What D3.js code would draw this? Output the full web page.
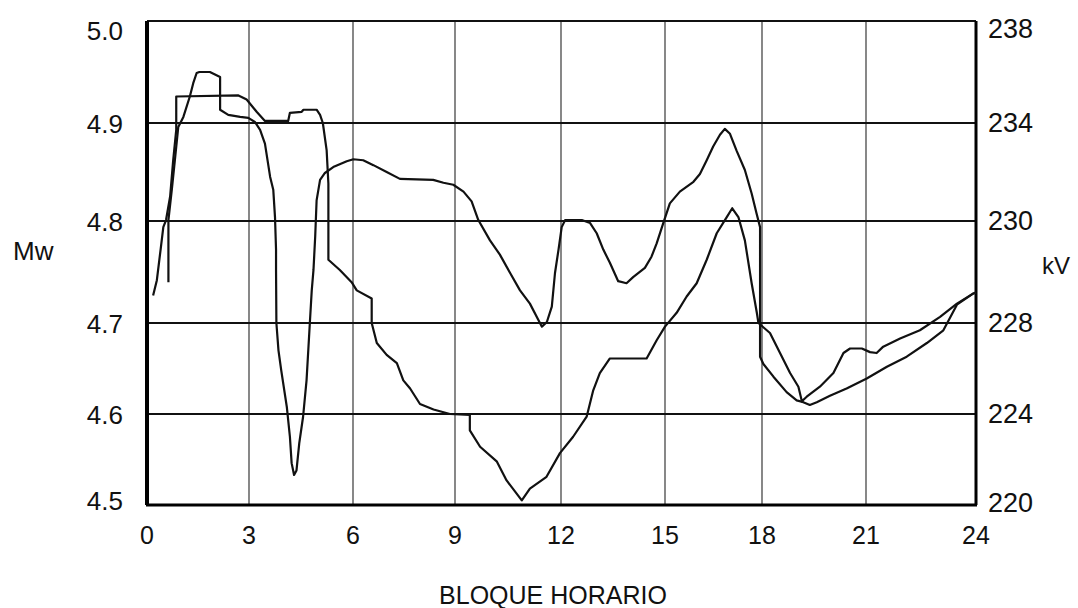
<!DOCTYPE html>
<html><head><meta charset="utf-8">
<script src="https://cdn.jsdelivr.net/npm/d3@7"></script>
<style>body{margin:0;background:#fff}svg{display:block}</style></head>
<body><svg id="c" width="1078" height="608"></svg>
<script>
// ---- data ----
const hourTicks = [0, 3, 6, 9, 12, 15, 18, 21, 24];
const mwTicks = [4.5, 4.6, 4.7, 4.8, 4.9, 5.0];
const mwTickLabels = ["4.5", "4.6", "4.7", "4.8", "4.9", "5.0"];
const kvTickLabels = ["220", "224", "228", "230", "234", "238"];
const leftTitle = "Mw", rightTitle = "kV", xTitle = "BLOQUE HORARIO";

const hoursA = [0.18,0.29,0.40,0.48,0.56,0.68,0.77,0.86,0.86,2.69,2.93,3.22,3.46,4.13,4.18,4.52,4.57,4.95,5.05,5.13,5.24,5.29,5.29,5.62,5.96,6.11,6.55,6.55,6.70,6.99,7.29,7.48,7.68,7.97,8.37,8.85,9.42,9.42,9.71,10.18,10.46,10.89,11.12,11.59,11.97,12.35,12.74,12.93,13.12,13.41,14.47,14.76,15.00,15.36,15.67,15.98,16.29,16.60,16.91,17.08,17.27,17.47,17.68,17.84,17.89,18.23,18.52,18.81,19.05,19.15,19.29,19.67,20.06,20.35,20.54,20.88,21.11,21.29,21.47,21.93,22.47,23.02,23.48,23.93,24.0];
const valuesA = [4.727,4.742,4.772,4.794,4.801,4.825,4.862,4.893,4.926,4.927,4.923,4.911,4.902,4.902,4.910,4.911,4.913,4.913,4.908,4.900,4.872,4.838,4.762,4.752,4.740,4.732,4.724,4.700,4.678,4.665,4.656,4.637,4.628,4.611,4.605,4.600,4.599,4.582,4.564,4.548,4.527,4.505,4.518,4.531,4.557,4.575,4.597,4.626,4.645,4.661,4.661,4.681,4.696,4.710,4.726,4.739,4.762,4.788,4.804,4.813,4.804,4.781,4.739,4.710,4.700,4.689,4.667,4.645,4.630,4.614,4.619,4.630,4.645,4.667,4.672,4.672,4.668,4.667,4.674,4.683,4.692,4.706,4.719,4.729,4.730];

const hoursB = [0.63,0.63,0.73,0.82,0.92,1.07,1.26,1.36,1.46,1.54,1.85,2.15,2.15,2.39,2.74,2.98,3.17,3.32,3.46,3.61,3.70,3.75,3.78,3.78,3.79,3.85,3.93,4.09,4.18,4.23,4.30,4.37,4.45,4.56,4.66,4.71,4.76,4.81,4.86,4.91,4.95,5.05,5.19,5.43,5.82,6.01,6.30,6.60,6.99,7.38,8.36,8.66,8.95,9.24,9.47,9.66,9.99,10.27,10.56,10.84,11.12,11.36,11.46,11.60,11.74,11.83,11.93,12.02,12.12,12.60,12.84,13.03,13.22,13.41,13.65,13.89,14.08,14.42,14.61,14.76,14.95,15.15,15.46,15.88,16.08,16.29,16.49,16.70,16.85,17.01,17.21,17.47,17.68,17.83,17.94,17.94,18.04,18.33,18.71,19.00,19.19,19.38,19.58,19.96,20.44,21.02,21.57,22.11,22.66,23.11,23.48,23.93,24.0];
const valuesB = [4.740,4.801,4.832,4.862,4.896,4.906,4.926,4.939,4.949,4.950,4.950,4.945,4.913,4.908,4.906,4.905,4.901,4.893,4.879,4.845,4.832,4.804,4.772,4.752,4.700,4.670,4.648,4.608,4.575,4.546,4.533,4.538,4.568,4.597,4.637,4.670,4.703,4.732,4.752,4.785,4.821,4.842,4.849,4.855,4.861,4.863,4.862,4.857,4.850,4.843,4.842,4.839,4.837,4.830,4.820,4.801,4.781,4.767,4.749,4.732,4.719,4.703,4.696,4.701,4.716,4.749,4.772,4.794,4.801,4.801,4.798,4.788,4.772,4.759,4.741,4.739,4.745,4.754,4.765,4.778,4.798,4.818,4.830,4.840,4.848,4.862,4.876,4.888,4.894,4.889,4.872,4.852,4.828,4.808,4.794,4.663,4.655,4.641,4.624,4.615,4.613,4.610,4.613,4.620,4.628,4.639,4.652,4.663,4.678,4.692,4.718,4.729,4.730];

// ---- layout ----
const svg = d3.select("#c");
const fontFam = "'Liberation Sans',Arial,sans-serif";
// scanned chart grid is slightly uneven: polylinear scales follow it
const x = d3.scaleLinear().domain(hourTicks).range([147,249,353,455,561,665,762,866,976]);
const y = d3.scaleLinear().domain(mwTicks).range([505,414,323,221,123,21]);
const x0 = x(0), x1 = x(24), yTop = y(5.0), yBot = y(4.5);

// vertical grid
svg.append("g").selectAll("line").data(hourTicks.slice(1, -1)).join("line")
  .attr("x1", d => x(d)).attr("x2", d => x(d)).attr("y1", yTop).attr("y2", yBot)
  .attr("stroke", "#555").attr("stroke-width", 1.4);
// horizontal grid
svg.append("g").selectAll("line").data(mwTicks.slice(1, -1)).join("line")
  .attr("x1", x0).attr("x2", x1).attr("y1", d => y(d)).attr("y2", d => y(d))
  .attr("stroke", "#111").attr("stroke-width", 2);
// frame
svg.append("line").attr("x1", x0).attr("x2", x1).attr("y1", yTop).attr("y2", yTop).attr("stroke", "#111").attr("stroke-width", 2);
svg.append("line").attr("x1", x0 - 1).attr("x2", x1 + 1).attr("y1", yBot).attr("y2", yBot).attr("stroke", "#000").attr("stroke-width", 3);
svg.append("line").attr("x1", x0).attr("x2", x0).attr("y1", yTop).attr("y2", yBot).attr("stroke", "#000").attr("stroke-width", 4);
svg.append("line").attr("x1", x1).attr("x2", x1).attr("y1", yTop).attr("y2", yBot).attr("stroke", "#000").attr("stroke-width", 3);

// series
const line = d3.line().x(d => x(d[0])).y(d => y(d[1])).curve(d3.curveLinear);
[[hoursA, valuesA], [hoursB, valuesB]].forEach(([hs, vs]) => {
  svg.append("path").datum(hs.map((h, i) => [h, vs[i]]))
    .attr("d", line).attr("fill", "none").attr("stroke", "#111")
    .attr("stroke-width", 2.2).attr("stroke-linejoin", "round");
});

// axes labels
const clampY = (v, lo, hi) => Math.min(Math.max(y(v), lo), hi);
svg.append("g").selectAll("text").data(mwTicks).join("text")
  .attr("x", 123).attr("y", d => clampY(d, 30, 500) + 1).attr("dy", "0.35em")
  .attr("text-anchor", "end").attr("font-family", fontFam).attr("font-size", 26)
  .attr("fill", "#111").text((d, i) => mwTickLabels[i]);
svg.append("g").selectAll("text").data(mwTicks).join("text")
  .attr("x", 988).attr("y", d => clampY(d, 29, 503)).attr("dy", "0.35em")
  .attr("text-anchor", "start").attr("font-family", fontFam).attr("font-size", 27)
  .attr("fill", "#111").text((d, i) => kvTickLabels[i]);
svg.append("g").selectAll("text").data(hourTicks).join("text")
  .attr("x", d => x(d)).attr("y", 535).attr("dy", "0.35em")
  .attr("text-anchor", "middle").attr("font-family", fontFam).attr("font-size", 25)
  .attr("fill", "#111").text(d => String(d));

svg.append("text").attr("x", 13).attr("y", 251).attr("dy", "0.35em")
  .attr("font-family", fontFam).attr("font-size", 26).attr("fill", "#111").text(leftTitle);
svg.append("text").attr("x", 1042).attr("y", 266).attr("dy", "0.35em")
  .attr("font-family", fontFam).attr("font-size", 24).attr("fill", "#111").text(rightTitle);
svg.append("text").attr("x", 553).attr("y", 595).attr("dy", "0.35em").attr("text-anchor", "middle")
  .attr("font-family", fontFam).attr("font-size", 25).attr("fill", "#111").text(xTitle);
</script></body></html>
